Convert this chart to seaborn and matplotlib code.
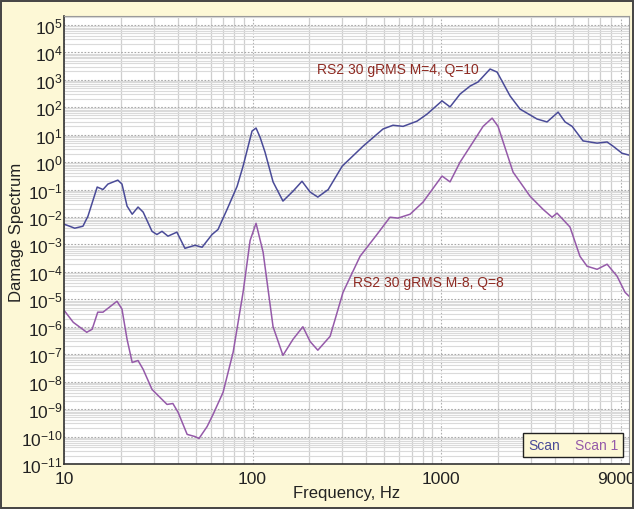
import numpy as np
import pandas as pd
import matplotlib
matplotlib.use("Agg")
import matplotlib.pyplot as plt
import matplotlib.ticker as mticker
from matplotlib.lines import Line2D
from matplotlib.transforms import ScaledTranslation
import seaborn as sns

# ---- data ----
scan_freq = [10.0, 11.4, 12.6, 13.4, 15.0, 16.1, 17.1, 19.3, 20.3, 21.6, 23.0, 24.7, 26.3,
             29.3, 31.1, 33.1, 35.6, 39.7, 43.8, 49.5, 54.0, 61.0, 65.6, 73.3, 82.8, 89.1,
             99.4, 104.4, 109.6, 116.5, 128.5, 145, 164, 183, 202, 222, 252, 299, 386, 492,
             556, 629, 746, 843, 1012, 1116, 1262, 1427, 1572, 1820, 1983, 2323, 2626, 3231,
             3650, 4178, 4550, 4958, 5666, 6725, 7600, 8172, 9120, 9930]
scan_val = [5.5e-3, 3.9e-3, 4.6e-3, 1.07e-2, 0.123, 0.10, 0.158, 0.22, 0.158, 0.025, 0.0126,
            0.023, 0.015, 3.0e-3, 2.3e-3, 3.0e-3, 2.0e-3, 2.8e-3, 7.2e-4, 9.3e-4, 7.9e-4,
            2.3e-3, 3.5e-3, 0.019, 0.13, 0.71, 13.5, 17.4, 8.1, 2.3, 0.19, 0.038, 0.087,
            0.20, 0.081, 0.053, 0.10, 0.71, 3.8, 16, 22, 20, 31, 56, 170, 102, 302, 590,
            830, 2460, 1900, 257, 85, 37, 29, 66, 29, 20, 5.9, 4.9, 5.4, 3.8, 2.1, 1.8]

scan1_freq = [10.0, 11.2, 13.2, 14.1, 15.1, 16.1, 19.1, 20.3, 21.6, 23.0, 24.7, 26.3, 29.3,
              35.2, 37.8, 40.3, 45.0, 49.5, 52.0, 57.4, 61.7, 69.8, 78.9, 89.1, 97.1, 104.4,
              113.8, 128.5, 145, 164, 185, 202, 222, 258, 302, 372, 457, 536, 591, 685, 803,
              1012, 1116, 1262, 1479, 1671, 1866, 2006, 2410, 2965, 3475, 3880, 4123, 4830,
              5454, 5953, 6725, 7600, 8590, 9460, 9930]
scan1_val = [4.0e-6, 1.45e-6, 6.3e-7, 8.1e-7, 3.4e-6, 3.4e-6, 8.5e-6, 4.4e-6, 3.5e-7, 5.0e-8,
             5.9e-8, 2.8e-8, 5.2e-9, 1.48e-9, 1.6e-9, 7.6e-10, 1.2e-10, 1.0e-10, 8.5e-11,
             2.3e-10, 6.3e-10, 4.1e-9, 1.17e-7, 1.8e-5, 1.4e-3, 5.9e-3, 5.2e-4, 1.0e-6,
             9.1e-8, 3.5e-7, 1.0e-6, 2.9e-7, 1.4e-7, 4.5e-7, 1.8e-5, 3.7e-4, 2.3e-3, 9.8e-3,
             9.1e-3, 0.0126, 0.035, 0.31, 0.19, 1.0, 5.4, 20, 40, 20, 0.43, 0.057, 0.019,
             9.8e-3, 0.0138, 4.3e-3, 3.7e-4, 1.6e-4, 1.24e-4, 1.9e-4, 6.9e-5, 1.8e-5, 1.3e-5]

series_names = ["Scan", "Scan 1"]
x_tick_values = [10, 100, 1000, 9000]
x_tick_labels = ["10", "100", "1000", "9000"]
annotations = ["RS2 30 gRMS M=4, Q=10", "RS2 30 gRMS M-8, Q=8"]

df = pd.concat([
    pd.DataFrame({"freq": scan_freq, "val": scan_val, "series": series_names[0]}),
    pd.DataFrame({"freq": scan1_freq, "val": scan1_val, "series": series_names[1]}),
], ignore_index=True)

# ---- style ----
sns.set_style("white")
plt.rcParams["font.family"] = ["Liberation Sans", "DejaVu Sans"]
plt.rcParams["mathtext.fontset"] = "custom"
plt.rcParams["mathtext.rm"] = "Liberation Sans"
plt.rcParams["mathtext.it"] = "Liberation Sans"

bg = "#fdf8d6"
c_scan = "#4a4b98"
c_scan1 = "#955aa9"
c_text = "#8e2a22"

fig = plt.figure(figsize=(6.34, 5.10), dpi=100, facecolor=bg)
ax = fig.add_axes([64 / 634, 1 - 465 / 510, (629 - 64) / 634, (465 - 17) / 510])
ax.set_facecolor("white")

ax.set_xscale("log")
ax.set_yscale("log")

sns.lineplot(data=df, x="freq", y="val", hue="series", palette=[c_scan, c_scan1],
             ax=ax, linewidth=1.1, legend=False, sort=False, estimator=None,
             solid_joinstyle="round")

ax.set_xlim(10, 9930)
ax.set_ylim(1e-11, 2.1e5)

# grid
ax.yaxis.set_major_locator(mticker.LogLocator(base=10, numticks=30))
ax.yaxis.set_minor_locator(mticker.LogLocator(base=10, subs=np.arange(2, 10), numticks=30))
ax.yaxis.set_minor_formatter(mticker.NullFormatter())
ax.xaxis.set_minor_locator(mticker.LogLocator(base=10, subs=np.arange(2, 10), numticks=30))
ax.xaxis.set_minor_formatter(mticker.NullFormatter())
ax.set_xticks(x_tick_values)
ax.set_xticklabels(x_tick_labels)

ax.grid(which="minor", axis="y", color="#dadada", linewidth=0.8)
ax.grid(which="major", axis="y", color="#a8a8a8", linewidth=0.8, linestyle=(0, (1.5, 1.5)))
ax.grid(which="minor", axis="x", color="#cfcfcf", linewidth=0.9)
ax.grid(which="major", axis="x", color="#b0b0b0", linewidth=0.8, linestyle=(0, (1.5, 1.5)))
ax.set_axisbelow(True)

ax.tick_params(axis="y", which="major", direction="in", length=3, labelsize=12.5,
               colors="#222222", pad=1)
ax.tick_params(axis="y", which="minor", length=0)
ax.tick_params(axis="x", which="both", length=0, labelsize=12.5, colors="#222222", pad=5)
ax.yaxis.set_major_formatter(mticker.LogFormatterMathtext())

for s in ax.spines.values():
    s.set_color("#9a9a9a")
    s.set_linewidth(0.8)
ax.spines["left"].set_color("#333333")
ax.spines["bottom"].set_color("#333333")
ax.spines["left"].set_linewidth(1.2)
ax.spines["bottom"].set_linewidth(1.2)

ax.set_xlabel("Frequency, Hz", fontsize=12, color="#222222")
ax.set_ylabel("Damage Spectrum", fontsize=12, color="#222222")
ax.xaxis.set_label_coords(0.5, (465 - 486) / 448)
ax.yaxis.set_label_coords((24 - 64) / 565, 0.52)

ax.text(220, 2.5e3, annotations[0], color=c_text, fontsize=10, ha="left", va="center")
ax.text(341, 4.2e-5, annotations[1], color=c_text, fontsize=10, ha="left", va="center")

# legend: colored text only
handles = [Line2D([], [], color="none"), Line2D([], [], color="none")]
leg = ax.legend(handles, series_names, loc="lower right", ncol=2, handlelength=0,
                handletextpad=0, columnspacing=1.1, frameon=True, fancybox=False,
                fontsize=10, borderpad=0.35, borderaxespad=0,
                bbox_to_anchor=((623 - 64) / 565, (465 - 458) / 448))
leg.get_frame().set_facecolor(bg)
leg.get_frame().set_edgecolor("#222222")
leg.get_frame().set_linewidth(1.0)
leg.get_frame().set_alpha(1)
for t, c in zip(leg.get_texts(), [c_scan, c_scan1]):
    t.set_color(c)

# outer figure border
fig.patches.append(plt.Rectangle((0.002, 0.002), 0.996, 0.994, transform=fig.transFigure,
                                 fill=False, edgecolor="#444444", linewidth=1.4))

# nudge the last x tick label slightly left so it stays inside the figure
fig.canvas.draw()
last = ax.get_xticklabels()[-1]
last.set_transform(last.get_transform() + ScaledTranslation(-5 / 100, 0, fig.dpi_scale_trans))

fig.savefig("out.png", dpi=100, facecolor=bg)
